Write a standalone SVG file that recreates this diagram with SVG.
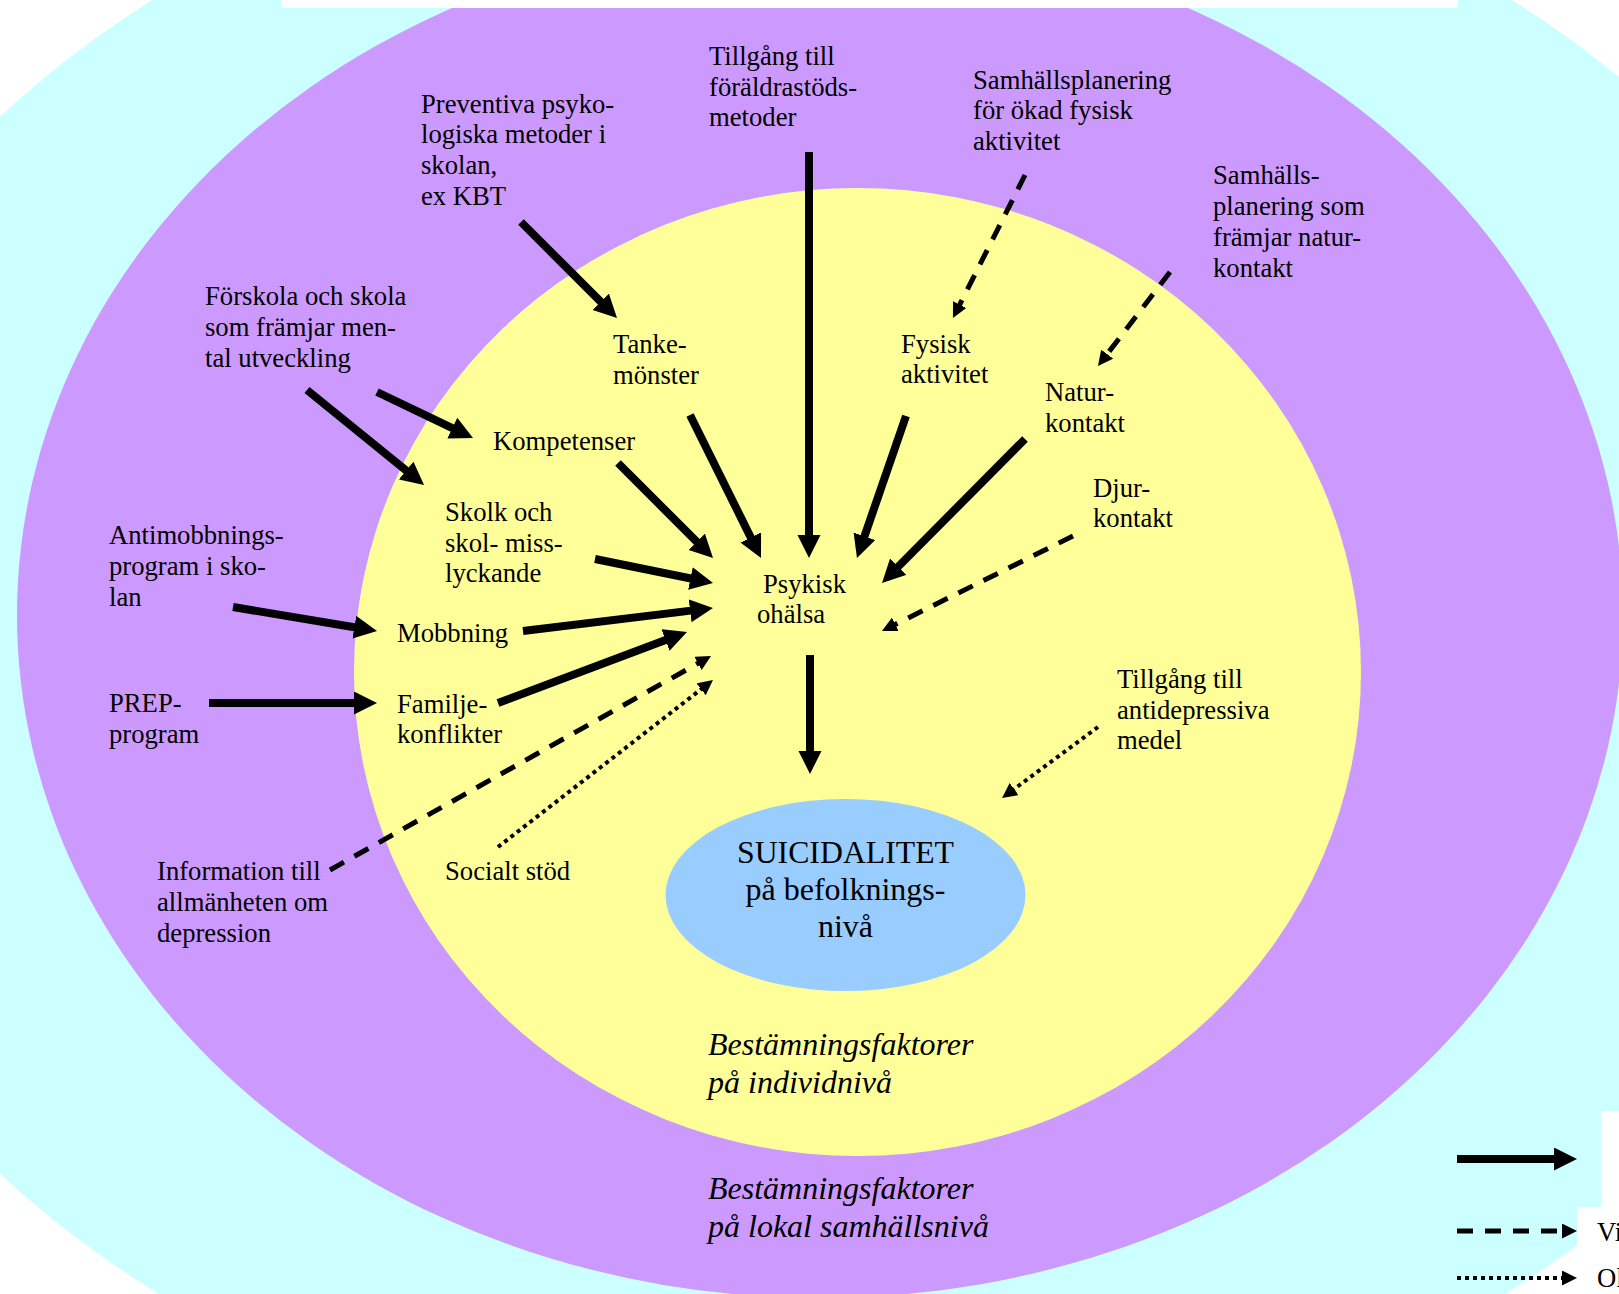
<svg xmlns="http://www.w3.org/2000/svg" width="1619" height="1294" viewBox="0 0 1619 1294">
<style>
text{font-family:"Liberation Serif","Times New Roman",serif;font-size:26.67px;fill:#000}
.it{font-style:italic;font-size:32px}
.big{font-size:32px}
.s{fill:none;stroke:#000;stroke-width:8}
.d{fill:none;stroke:#000;stroke-width:5;stroke-dasharray:16 12}
.o{fill:none;stroke:#000;stroke-width:4;stroke-dasharray:4 4}
</style>
<defs>
<marker id="ah" markerUnits="userSpaceOnUse" markerWidth="24" markerHeight="24" refX="3" refY="11.5" orient="auto"><path d="M0,0 L23,11.5 L0,23 z" fill="#000"/></marker>
<marker id="ahs" markerUnits="userSpaceOnUse" markerWidth="16" markerHeight="16" refX="2" refY="7.5" orient="auto"><path d="M0,0 L15,7.5 L0,15 z" fill="#000"/></marker>
</defs>
<rect width="1619" height="1294" fill="#fff"/>
<g id="rings">
<ellipse cx="832" cy="645" rx="1078" ry="831" fill="#CCFFFF"/>
<ellipse cx="820" cy="615" rx="803" ry="683" fill="#CC99FF"/>
<ellipse cx="857.5" cy="672" rx="503.5" ry="484" fill="#FFFF99"/>
<rect x="281" y="0" width="1177" height="8" fill="#fff"/>
</g>
<g id="suicidalitet">
<ellipse cx="845.5" cy="895" rx="180" ry="96" fill="#99CCFF"/>
<text class="big" text-anchor="middle"><tspan x="845.5" y="863" textLength="217" lengthAdjust="spacingAndGlyphs">SUICIDALITET</tspan><tspan x="845.5" y="900">på befolknings-</tspan><tspan x="845.5" y="937">nivå</tspan></text>
</g>
<g id="foraldrastod"><text><tspan x="709" y="65">Tillgång till</tspan><tspan x="709" y="96">föräldrastöds-</tspan><tspan x="709" y="126">metoder</tspan></text></g>
<g id="preventiva"><text><tspan x="421" y="113">Preventiva psyko-</tspan><tspan x="421" y="143">logiska metoder i</tspan><tspan x="421" y="174">skolan,</tspan><tspan x="421" y="205">ex KBT</tspan></text></g>
<g id="samhallsplanering-fysisk"><text><tspan x="973" y="89">Samhällsplanering</tspan><tspan x="973" y="119">för ökad fysisk</tspan><tspan x="973" y="150">aktivitet</tspan></text></g>
<g id="samhallsplanering-natur"><text><tspan x="1213" y="184">Samhälls-</tspan><tspan x="1213" y="215">planering som</tspan><tspan x="1213" y="246">främjar natur-</tspan><tspan x="1213" y="277">kontakt</tspan></text></g>
<g id="forskola"><text><tspan x="205" y="305">Förskola och skola</tspan><tspan x="205" y="336">som främjar men-</tspan><tspan x="205" y="367">tal utveckling</tspan></text></g>
<g id="tankemonster"><text><tspan x="613" y="353">Tanke-</tspan><tspan x="613" y="384">mönster</tspan></text></g>
<g id="kompetenser"><text x="493" y="450">Kompetenser</text></g>
<g id="skolk"><text><tspan x="445" y="521">Skolk och</tspan><tspan x="445" y="552">skol- miss-</tspan><tspan x="445" y="582">lyckande</tspan></text></g>
<g id="mobbning"><text x="397" y="642">Mobbning</text></g>
<g id="familjekonflikter"><text><tspan x="397" y="713">Familje-</tspan><tspan x="397" y="743">konflikter</tspan></text></g>
<g id="psykisk"><text><tspan x="763" y="593">Psykisk</tspan><tspan x="757" y="623">ohälsa</tspan></text></g>
<g id="fysisk"><text><tspan x="901" y="353">Fysisk</tspan><tspan x="901" y="383">aktivitet</tspan></text></g>
<g id="naturkontakt"><text><tspan x="1045" y="401">Natur-</tspan><tspan x="1045" y="432">kontakt</tspan></text></g>
<g id="djurkontakt"><text><tspan x="1093" y="497">Djur-</tspan><tspan x="1093" y="527">kontakt</tspan></text></g>
<g id="antimobbning"><text><tspan x="109" y="544">Antimobbnings-</tspan><tspan x="109" y="575">program i sko-</tspan><tspan x="109" y="606">lan</tspan></text></g>
<g id="prep"><text><tspan x="109" y="712">PREP-</tspan><tspan x="109" y="743">program</tspan></text></g>
<g id="information"><text><tspan x="157" y="880">Information till</tspan><tspan x="157" y="911">allmänheten om</tspan><tspan x="157" y="942">depression</tspan></text></g>
<g id="socialt-stod"><text x="445" y="880">Socialt stöd</text></g>
<g id="antidepressiva"><text><tspan x="1117" y="688">Tillgång till</tspan><tspan x="1117" y="719">antidepressiva</tspan><tspan x="1117" y="749">medel</tspan></text></g>
<g id="individniva"><text class="it"><tspan x="708" y="1055">Bestämningsfaktorer</tspan><tspan x="708" y="1093">på individnivå</tspan></text></g>
<g id="samhallsniva"><text class="it"><tspan x="708" y="1199">Bestämningsfaktorer</tspan><tspan x="708" y="1237">på lokal samhällsnivå</tspan></text></g>
<g id="connectors">
<path class="s" marker-end="url(#ah)" d="M521,222 L602.9,303.9"/>
<path class="s" marker-end="url(#ah)" d="M809,152 L809,538"/>
<path class="s" marker-end="url(#ah)" d="M690,415 L752.1,540.1"/>
<path class="s" marker-end="url(#ah)" d="M618,463 L698.9,543.9"/>
<path class="s" marker-end="url(#ah)" d="M595,559 L693.4,579"/>
<path class="s" marker-end="url(#ah)" d="M523,631 L693.1,610.4"/>
<path class="s" marker-end="url(#ah)" d="M498,703 L668.3,639"/>
<path class="s" marker-end="url(#ah)" d="M377,392 L455,429.4"/>
<path class="s" marker-end="url(#ah)" d="M307,390 L408.5,472.4"/>
<path class="s" marker-end="url(#ah)" d="M233,607 L357.3,627.7"/>
<path class="s" marker-end="url(#ah)" d="M209,703 L357,703"/>
<path class="s" marker-end="url(#ah)" d="M810,655 L810,754"/>
<path class="s" marker-end="url(#ah)" d="M906,416 L863.5,539.1"/>
<path class="s" marker-end="url(#ah)" d="M1025,439 L896.1,568.8"/>
<path class="d" marker-end="url(#ahs)" d="M1025,175 L958.8,306.4"/>
<path class="d" marker-end="url(#ahs)" d="M1170,272 L1105.9,355.7"/>
<path class="d" marker-end="url(#ahs)" d="M1073,536 L893.6,625.2"/>
<path class="d" marker-end="url(#ahs)" d="M330,870 L699.7,662.4"/>
<path class="o" marker-end="url(#ahs)" d="M498,847 L702.7,688"/>
<path class="o" marker-end="url(#ahs)" d="M1098,727 L1012.5,790.3"/>
</g>
<g id="legend">
<rect x="1601" y="1111" width="18" height="96" fill="#fff"/>
<rect x="1577" y="1207" width="42" height="87" fill="#fff"/>
<path class="s" marker-end="url(#ah)" d="M1457,1159 L1557,1159"/>
<path class="d" marker-end="url(#ahs)" d="M1457,1231 L1564,1231"/>
<path class="o" marker-end="url(#ahs)" d="M1457,1278 L1564,1278"/>
<text x="1597" y="1241">Vi</text>
<text x="1597" y="1287">Ol</text>
</g>
</svg>
